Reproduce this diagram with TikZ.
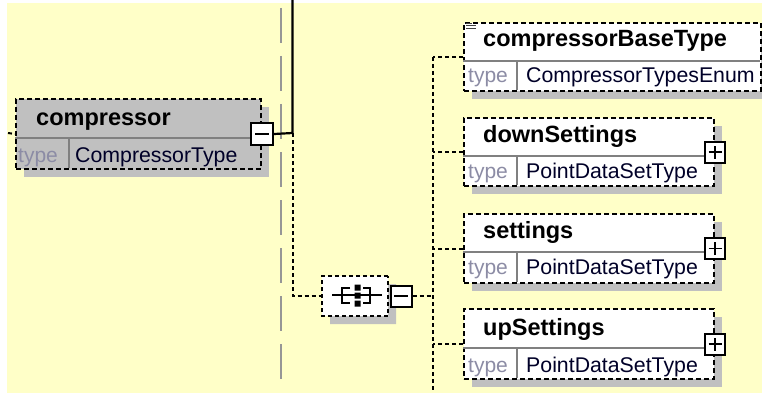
\documentclass[tikz,border=0pt]{standalone}
\usepackage{fontspec}
\setmainfont{Liberation Sans}
\usetikzlibrary{shapes.misc,shadows}
\definecolor{bg}{RGB}{255,255,200}
\definecolor{shgrey}{RGB}{192,192,192}
\definecolor{sepgrey}{RGB}{128,128,128}
\definecolor{typegrey}{RGB}{140,140,165}
\definecolor{valcol}{RGB}{0,0,40}
\definecolor{longgrey}{RGB}{150,150,150}
\begin{document}
\begin{tikzpicture}[x=1pt,y=-1pt,
  shad/.style={drop shadow={fill=shgrey,opacity=1,shadow xshift=8pt,shadow yshift=-8pt}},
  ebox/.style={draw=black, line width=2pt, dash pattern=on 5pt off 3pt, fill=white, anchor=north west, inner sep=0pt, shad},
  conn/.style={draw=black, line width=2pt, dash pattern=on 4pt off 3pt},
  solidc/.style={draw=black, line width=2.2pt},
  sepl/.style={draw=sepgrey, line width=1.2pt},
  nametxt/.style={anchor=base west, inner sep=0pt, font=\fontsize{23.5}{28}\selectfont\bfseries},
  typetxt/.style={anchor=base west, inner sep=0pt, text=typegrey, font=\fontsize{21}{25}\selectfont},
  valtxt/.style={anchor=base west, inner sep=0pt, text=valcol, font=\fontsize{21.3}{25}\selectfont},
  minusbox/.style={draw=black, fill=white, line width=2pt, minimum size=21pt, inner sep=0pt,
    path picture={\draw[line width=1.8pt] ([xshift=-7pt]path picture bounding box.center) -- ([xshift=7pt]path picture bounding box.center);}},
  plusbox/.style={draw=black, fill=white, line width=2pt, minimum width=20pt, minimum height=21pt, inner sep=0pt,
    path picture={\draw[line width=1.8pt] ([xshift=-6.5pt]path picture bounding box.center) -- ([xshift=6.5pt]path picture bounding box.center)
      ([yshift=-6.5pt]path picture bounding box.center) -- ([yshift=6.5pt]path picture bounding box.center);}}
]
\useasboundingbox (0,0) rectangle (762,393);
\fill[white] (0,0) rectangle (762,393);
\fill[bg] (7,3) rectangle (762,393);

% long grey dashed guide
\coordinate (g1) at (281,8);
\coordinate (g2) at (281,385);
\draw[longgrey, line width=1.8pt, dash pattern=on 35pt off 13pt] (g1) -- (g2);

% compressor element
\node[ebox, fill=shgrey, minimum width=245pt, minimum height=70pt] (comp) at (15,98) {};
\draw[sepl] (15,138) -- (260,138) (69,138) -- (69,168);
\node[nametxt] (compname) at (36,125) {compressor};
\node[typetxt] (comptype) at (18,162) {type};
\node[valtxt] (compval) at (75,162) {CompressorType};
\coordinate (cl) at (8,133);
\draw[conn] (cl) -- (comp.west);
\node[minusbox, minimum size=22pt] (m1) at (comp.east) {};
\coordinate (j1) at (292.5,133);
\coordinate (top) at (292.5,0);
\draw[solidc] (m1.east) -- (j1) -- (top);

% sequence compositor
\node[chamfered rectangle, chamfered rectangle xsep=10pt, chamfered rectangle ysep=10pt, draw=black, line width=2pt, dash pattern=on 4pt off 3pt, fill=white, minimum width=66pt, minimum height=40pt, inner sep=0pt, shad] (seq) at (355,296) {};
\draw[conn] (j1) |- (seq.west);
\coordinate (s1) at (332,295);
\coordinate (s2) at (382,295);
\draw[line width=1.8pt] (s1) -- (s2);
\draw[line width=1.8pt] (350,288) -- (342,288) -- (342,303) -- (350,303);
\draw[line width=1.8pt] (363,288) -- (370,288) -- (370,303) -- (363,303);
\fill[black] (354.5,284.5) rectangle (360.5,290.5) (354.5,292.5) rectangle (360.5,298.5) (354.5,300.5) rectangle (360.5,306.5);
\node[minusbox] (sm) at (401,296) {};
\coordinate (j2) at (433,296);
\draw[conn] (sm.east) -- (j2);

% compressorBaseType
\node[ebox, minimum width=297pt, minimum height=68pt] (cbt) at (463,22) {};
\draw[sepl] (463,61) -- (760,61) (517,61) -- (517,90);
\draw[line width=1pt, draw=black!75] (466,23.5) -- (472,23.5) (466,25.8) -- (476,25.8) (466,28.1) -- (476,28.1);
\node[nametxt] (cbtname) at (483,47) {compressorBaseType};
\node[typetxt] (cbttype) at (468,83) {type};
\node[valtxt] (cbtval) at (526,83) {CompressorTypesEnum};
\coordinate (jt) at (cbt.west -| j2);
\coordinate (bot) at (433,393);
\draw[conn] (jt) -- (bot);
\draw[conn] (cbt.west) -- (jt);

% downSettings
\node[ebox, minimum width=250pt, minimum height=68pt] (ds) at (463,117) {};
\draw[sepl] (463,156) -- (713,156) (517,156) -- (517,185);
\node[nametxt] (dsname) at (483,142) {downSettings};
\node[typetxt] (dstype) at (468,178) {type};
\node[valtxt] (dsval) at (526,178) {PointDataSetType};
\node[plusbox] (dsp) at (ds.east) {};
\draw[conn] (ds.west) -- (ds.west -| j2);

% settings
\node[ebox, minimum width=250pt, minimum height=69pt] (st) at (463,213) {};
\draw[sepl] (463,252) -- (713,252) (517,252) -- (517,282);
\node[nametxt] (stname) at (483,238) {settings};
\node[typetxt] (sttype) at (468,274) {type};
\node[valtxt] (stval) at (526,274) {PointDataSetType};
\node[plusbox] (stp) at (st.east) {};
\draw[conn] (st.west) -- (st.west -| j2);

% upSettings
\node[ebox, minimum width=250pt, minimum height=70pt] (up) at (463,308) {};
\draw[sepl] (463,348) -- (713,348) (517,348) -- (517,378);
\node[nametxt] (upname) at (483,335) {upSettings};
\node[typetxt] (uptype) at (468,372) {type};
\node[valtxt] (upval) at (526,372) {PointDataSetType};
\node[plusbox] (upp) at (up.east) {};
\draw[conn] (up.west) -- (up.west -| j2);
\end{tikzpicture}
\end{document}
